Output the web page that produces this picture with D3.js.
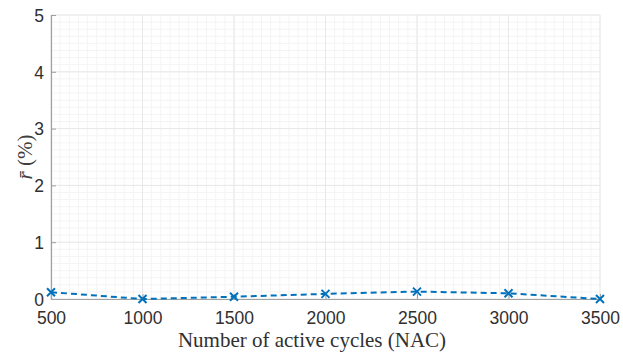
<!DOCTYPE html>
<html>
<head>
<meta charset="utf-8">
<script src="https://cdn.jsdelivr.net/npm/d3@7"></script>
<style>
  body { margin: 0; background: #fff; }
</style>
</head>
<body>
<div id="chart"></div>
<script>
// values
const cycles = [500, 1000, 1500, 2000, 2500, 3000, 3500];
const rMean = [0.12, 0.0, 0.04, 0.09, 0.13, 0.10, 0.0];
const xTicks = [500, 1000, 1500, 2000, 2500, 3000, 3500];
const yTicks = [0, 1, 2, 3, 4, 5];

var svgwidth = 623;
var svgheight = 353;
var margin = { left: 51, top: 15, right: 23, bottom: 54 };
var inner_width = svgwidth - margin.left - margin.right;
var inner_height = svgheight - margin.top - margin.bottom;

var svg = d3.select('#chart')
    .append('svg')
    .attr('width', svgwidth)
    .attr('height', svgheight);

var g = svg.append('g')
    .attr('transform', `translate(${margin.left}, ${margin.top})`);

var xscale = d3.scaleLinear().domain([500, 3500]).range([0, inner_width]);
var yscale = d3.scaleLinear().domain([0, 5]).range([inner_height, 0]);

// minor grid
g.append('g')
    .selectAll('line')
    .data(d3.range(500, 3500.1, 50))
    .join('line')
    .attr('x1', d => xscale(d)).attr('x2', d => xscale(d))
    .attr('y1', 0).attr('y2', inner_height)
    .attr('stroke', '#f4f4f4');
g.append('g')
    .selectAll('line')
    .data(d3.range(0, 5.01, 0.125))
    .join('line')
    .attr('y1', d => yscale(d)).attr('y2', d => yscale(d))
    .attr('x1', 0).attr('x2', inner_width)
    .attr('stroke', '#f4f4f4');

// major grid
g.append('g')
    .selectAll('line')
    .data(xTicks)
    .join('line')
    .attr('x1', d => xscale(d)).attr('x2', d => xscale(d))
    .attr('y1', 0).attr('y2', inner_height)
    .attr('stroke', '#e8e8e8');
g.append('g')
    .selectAll('line')
    .data(yTicks)
    .join('line')
    .attr('y1', d => yscale(d)).attr('y2', d => yscale(d))
    .attr('x1', 0).attr('x2', inner_width)
    .attr('stroke', '#e8e8e8');

// axes (ticks point inward)
var xaxis = d3.axisBottom(xscale).tickValues(xTicks).tickSize(-5).tickPadding(13).tickFormat(d3.format('d'));
var yaxis = d3.axisLeft(yscale).tickValues(yTicks).tickSize(-5).tickPadding(7).tickFormat(d3.format('d'));

var gx = g.append('g')
    .attr('transform', 'translate(0, ' + inner_height + ')')
    .call(xaxis);
var gy = g.append('g').call(yaxis);

[gx, gy].forEach(a => {
    a.select('.domain').attr('stroke', '#a0a0a0').attr('stroke-width', 1.2);
    a.selectAll('.tick line').attr('stroke', '#a0a0a0');
    a.selectAll('.tick text')
        .attr('fill', '#303030')
        .style('font-family', '"Liberation Sans", Arial, sans-serif')
        .style('font-size', '17.5px');
});
gy.selectAll('.tick text').attr('dy', '0.36em');

// data line
var line = d3.line()
    .x((d, i) => xscale(cycles[i]))
    .y(d => yscale(d));

g.append('path')
    .datum(rMean)
    .attr('d', line)
    .attr('fill', 'none')
    .attr('stroke', '#0072BD')
    .attr('stroke-width', 2)
    .attr('stroke-dasharray', '6,4');

var m = 4;
g.append('g')
    .selectAll('path')
    .data(rMean)
    .join('path')
    .attr('transform', (d, i) => `translate(${xscale(cycles[i])}, ${yscale(d)})`)
    .attr('d', `M${-m},${-m}L${m},${m}M${-m},${m}L${m},${-m}`)
    .attr('stroke', '#0072BD')
    .attr('stroke-width', 2);

// Title on the X-axis
svg.append('text')
    .attr('x', 312)
    .attr('y', 347)
    .style('text-anchor', 'middle')
    .style('font-family', '"Liberation Serif", "Times New Roman", serif')
    .style('font-size', '21px')
    .attr('fill', '#303030')
    .text('Number of active cycles (NAC)');

// Title on the Y-axis
var ylab = svg.append('text')
    .attr('transform', 'rotate(-90)')
    .attr('x', -157)
    .attr('y', 32)
    .style('text-anchor', 'middle')
    .style('font-family', '"Liberation Serif", "Times New Roman", serif')
    .style('font-size', '21px')
    .attr('fill', '#404040');
ylab.append('tspan').style('font-style', 'italic').text('r\u0304');
ylab.append('tspan').text(' (%)');
</script>
</body>
</html>
